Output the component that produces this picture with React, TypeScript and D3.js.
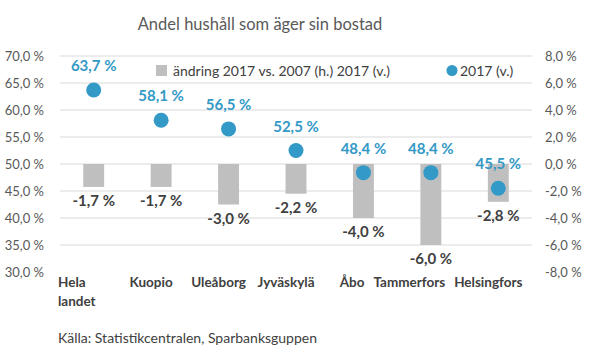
import React from "react";
import * as d3 from "d3";

const title = "Andel hushåll som äger sin bostad";
const categories = ["Hela landet", "Kuopio", "Uleåborg", "Jyväskylä", "Åbo", "Tammerfors", "Helsingfors"];
const change = [-1.7, -1.7, -3.0, -2.2, -4.0, -6.0, -2.8];
const share2017 = [63.7, 58.1, 56.5, 52.5, 48.4, 48.4, 45.5];
const leftTicks = [70, 65, 60, 55, 50, 45, 40, 35, 30];
const rightTicks = [8, 6, 4, 2, 0, -2, -4, -6, -8];
const legendBar = "ändring 2017 vs. 2007 (h.) 2017 (v.)";
const legendDot = "2017 (v.)";
const source = "Källa: Statistikcentralen, Sparbanksguppen";

const W = 591;
const H = 364;
const FONT = "Lato, 'Open Sans', sans-serif";
const fmt = (v: number) => v.toFixed(1).replace(".", ",") + " %";

const CAT_FS = 13.5;
function measure(s: string): number {
  if (typeof document === "undefined") return s.length * 7;
  const c = document.createElement("canvas").getContext("2d");
  if (!c) return s.length * 7;
  c.font = `bold ${CAT_FS}px Lato, 'Open Sans', sans-serif`;
  return c.measureText(s).width;
}

export default function App() {
  const x = d3.scaleBand<string>().domain(categories).range([60, 532]).padding(0);
  const yL = d3.scaleLinear().domain([30, 70]).range([272, 56]);
  const yR = d3.scaleLinear().domain([-8, 8]).range([272, 56]);
  const bw = x.bandwidth() * 0.31;
  const blue = "#3399c6";
  const dark = "#404040";
  const axisCol = "#595959";

  // category label layout: shift left of band center, avoid overlaps (right to left)
  const labelWords = categories.map((c) => (c.includes(" ") ? c.split(" ") : [c]));
  const widths = labelWords.map((ws) => Math.max(...ws.map(measure)));
  const centers: number[] = new Array(categories.length);
  let rightLimit = x.range()[1];
  for (let i = categories.length - 1; i >= 0; i--) {
    const cx = (x(categories[i]) as number) + x.bandwidth() / 2 - 10;
    const half = widths[i] / 2;
    const c = Math.min(cx, rightLimit - half);
    centers[i] = c;
    rightLimit = c - half - 9;
  }

  return (
    <svg width={W} height={H} style={{ position: "absolute", left: 0, top: 0, background: "#fff" }} fontFamily={FONT}>
      <text x={260} y={30} textAnchor="middle" fontSize={16.5} fill={axisCol}>{title}</text>

      {leftTicks.filter((t) => t > 30).map((t) => (
        <line key={"g" + t} x1={60} x2={532} y1={yL(t)} y2={yL(t)} stroke="#d9d9d9" strokeWidth={1} />
      ))}
      {leftTicks.map((t) => (
        <text key={"l" + t} x={44} y={yL(t)} dy="0.35em" textAnchor="end" fontSize={13} fill={axisCol}>{fmt(t)}</text>
      ))}
      {rightTicks.map((t) => (
        <text key={"r" + t} x={545} y={yR(t)} dy="0.35em" textAnchor="start" fontSize={13} fill={axisCol}>{fmt(t)}</text>
      ))}

      {/* legend */}
      <rect x={156} y={65} width={11} height={11} fill="#bfbfbf" />
      <text x={173} y={75.5} fontSize={14} fill={dark}>{legendBar}</text>
      <circle cx={452} cy={70.5} r={5.5} fill={blue} />
      <text x={460} y={75.5} fontSize={14} fill={dark}>{legendDot}</text>

      {categories.map((c, i) => {
        const cx = (x(c) as number) + x.bandwidth() / 2;
        const v = change[i];
        const y0 = yR(0);
        const y1 = yR(v);
        return (
          <g key={c}>
            <rect x={cx - bw / 2} y={Math.min(y0, y1)} width={bw} height={Math.abs(y1 - y0)} fill="#bfbfbf" />
            <text x={cx} y={y1 + 19} textAnchor="middle" fontSize={15} fontWeight="bold" fill={dark}>{fmt(v)}</text>
          </g>
        );
      })}
      {categories.map((c, i) => {
        const cx = (x(c) as number) + x.bandwidth() / 2;
        const cy = yL(share2017[i]);
        return (
          <g key={"d" + c}>
            <circle cx={cx} cy={cy} r={7.5} fill={blue} />
            <text x={cx} y={cy - 19} textAnchor="middle" fontSize={15} fontWeight="bold" fill={blue}>{fmt(share2017[i])}</text>
          </g>
        );
      })}

      {categories.map((c, i) => {
        const words = labelWords[i];
        const multi = words.length > 1;
        const lx = multi ? (x(c) as number) - 2 : centers[i];
        return (
          <text key={"c" + c} x={lx} y={287} textAnchor={multi ? "start" : "middle"} fontSize={CAT_FS} fontWeight="bold" fill={dark}>
            {words.map((w, j) => (
              <tspan key={j} x={lx} dy={j === 0 ? 0 : 19}>{w}</tspan>
            ))}
          </text>
        );
      })}

      <text x={58} y={343} fontSize={14} fill={dark}>{source}</text>
    </svg>
  );
}
